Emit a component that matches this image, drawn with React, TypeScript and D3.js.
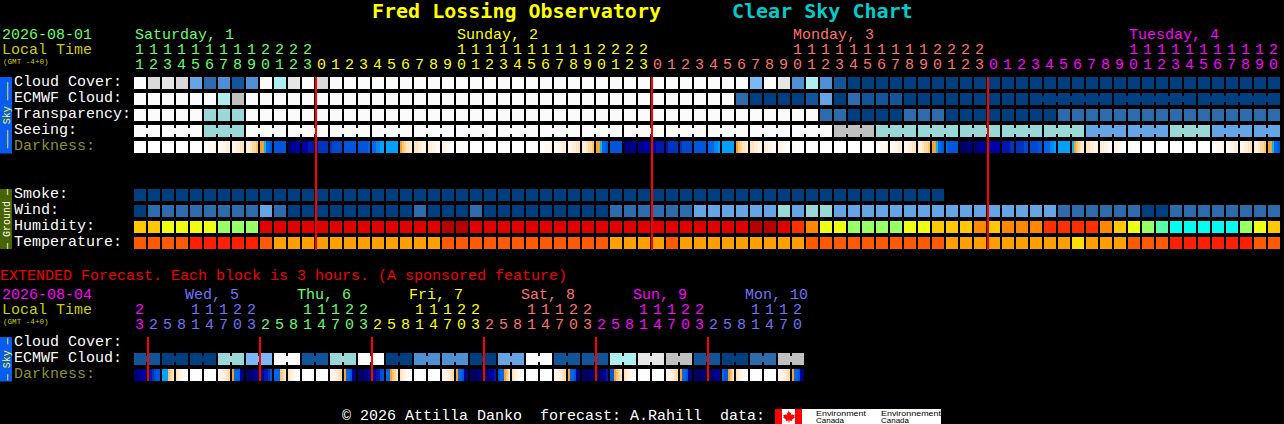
import * as d3 from 'd3';

import React, { useEffect, useRef } from 'react';

// level 0 = clear ... 11 = overcast, shared by all the sky rows
const skyPalette = ['#fbfbfb', '#e6e6e6', '#d9d9d9', '#c0c0c0', '#aeeeee', '#9ad8d8', '#7ab8f8', '#65a5e5', '#4f8fd4', '#2d6bad', '#13559a', '#003f7f'];
const humidityPalette = ['#00ffee', '#55ffaa', '#99ff66', '#eeff14', '#ffc800', '#ff8800', '#ff3000', '#e00000', '#b40000'];
const temperaturePalette = ['#ffdd00', '#ffa000', '#ff5a00', '#ff2000'];

const cloudCover = [0, 2, 1, 2, 7, 9, 8, 10, 8, 0, 4, 1, 0, 2, 0, 0, 0, 0, 0, 0, 0, 0, 0, 0, 0, 0, 0, 0, 0, 0, 0, 0, 0, 0, 0, 0, 0, 0, 0, 0, 0, 0, 0, 0, 6, 0, 1, 8, 4, 8, 10, 11, 11, 11, 11, 11, 11, 11, 11, 11, 11, 11, 11, 11, 11, 11, 11, 11, 11, 11, 11, 11, 11, 11, 11, 11, 11, 11, 11, 11, 11, 11];
const ecmwfCloud = [0, 0, 0, 0, 0, 0, 4, 3, 0, 0, 0, 0, 0, 0, 0, 0, 0, 0, 0, 0, 0, 0, 0, 0, 0, 0, 0, 0, 0, 0, 0, 0, 0, 0, 0, 0, 0, 0, 0, 0, 0, 0, 0, 9, 11, 11, 11, 11, 10, 7, 11, 9, 10, 10, 10, 11, 11, 11, 11, 11, 11, 11, 11, 11, 11, 11, 11, 11, 11, 11, 11, 11, 11, 11, 11, 11, 11, 11, 11, 11, 11, 11];
const transparency = [0, 0, 0, 0, 0, 5, 5, 5, 0, 0, 0, 0, 0, 0, 0, 0, 0, 0, 0, 0, 0, 0, 0, 0, 0, 0, 0, 0, 0, 0, 0, 0, 0, 0, 0, 0, 0, 0, 0, 0, 0, 0, 0, 0, 0, 0, 0, 0, 0, 9, 9, 11, 11, 11, 11, 9, 9, 9, 11, 11, 11, 11, 11, 11, 11, 11, 9, 9, 9, 9, 9, 9, 9, 9, 9, 9, 9, 9, 9, 9, 9, 9];
const seeing = [0, 0, 0, 0, 0, 5, 5, 5, 0, 0, 0, 0, 0, 0, 0, 0, 0, 0, 0, 0, 0, 0, 0, 0, 0, 0, 0, 0, 0, 0, 0, 0, 0, 0, 0, 0, 0, 0, 0, 0, 0, 0, 0, 0, 0, 0, 0, 0, 0, 0, 3, 3, 3, 5, 5, 5, 5, 5, 5, 5, 5, 5, 5, 5, 5, 5, 5, 5, 7, 7, 7, 7, 7, 7, 5, 5, 5, 7, 7, 7, 7, 7];
const smoke = [11, 11, 11, 11, 11, 11, 11, 11, 11, 11, 11, 11, 11, 11, 11, 11, 11, 11, 11, 11, 11, 11, 11, 11, 11, 11, 11, 11, 11, 11, 11, 11, 11, 11, 11, 11, 11, 11, 11, 11, 11, 11, 11, 11, 11, 11, 11, 11, 11, 11, 11, 11, 11, 11, 11, 11, 11, 11];
const wind = [11, 9, 9, 9, 9, 9, 9, 9, 9, 7, 9, 11, 11, 11, 11, 11, 11, 11, 11, 11, 9, 11, 11, 11, 9, 11, 11, 11, 11, 11, 11, 11, 11, 11, 9, 9, 9, 9, 9, 9, 7, 7, 7, 7, 7, 7, 5, 7, 5, 5, 7, 7, 7, 7, 7, 7, 7, 7, 7, 7, 7, 7, 7, 7, 7, 7, 9, 9, 9, 9, 9, 9, 11, 11, 9, 9, 9, 9, 9, 9, 9, 9];
const humidity = [4, 4, 3, 3, 3, 3, 2, 2, 2, 7, 7, 7, 7, 7, 7, 7, 7, 7, 7, 7, 7, 7, 8, 8, 7, 7, 7, 7, 7, 7, 7, 7, 7, 7, 7, 7, 7, 7, 7, 7, 7, 7, 7, 7, 8, 8, 7, 6, 5, 3, 3, 2, 2, 2, 2, 3, 3, 4, 4, 4, 5, 4, 5, 5, 5, 6, 6, 6, 6, 5, 4, 3, 2, 1, 0, 0, 0, 0, 0, 2, 3, 4];
const temperature = [2, 2, 2, 2, 3, 3, 3, 3, 3, 2, 1, 1, 1, 1, 1, 1, 1, 1, 1, 1, 1, 1, 2, 2, 2, 2, 2, 2, 2, 2, 2, 2, 2, 2, 1, 1, 1, 1, 2, 1, 1, 1, 1, 1, 1, 1, 1, 1, 2, 2, 2, 2, 2, 2, 2, 2, 2, 2, 1, 1, 1, 1, 1, 1, 1, 1, 1, 0, 1, 1, 1, 2, 2, 2, 3, 3, 3, 3, 3, 3, 2, 2];

// one level per 3 hour block, each block is two columns wide
const extEcmwf = [10, 11, 11, 5, 6, 0, 10, 5, 0, 11, 8, 8, 11, 7, 0, 10, 10, 4, 1, 3, 10, 11, 9, 3];

// darkness: six slices per cell, one letter per slice
const darkColors: Record<string, string> = {
  w: '#ffffff', v: '#fffaf2', u: '#fff4e6', t: '#ffeed8', s: '#ffe4c0', r: '#ffd69c', q: '#ffc46c', o: '#f8a030',
  c: '#00b8f0', h: '#00a0ff', i: '#0088f0', j: '#0068e8', k: '#0055dd', l: '#0048d0', m: '#0033c0', n: '#0018b0',
  a: '#0000a8', b: '#000090', d: '#000078', e: '#000060',
};
const darkness = [
  'wwwwww', 'wwwwww', 'wwwwww', 'wwwwww', 'wwwwww', 'wwvvvu', 'vvuutt', 'uuttss', 'ttsrrq', 'oocjjk', 'kkkkkk', 'edbbaa', 'aaannn', 'nmmmmm',
  'mlllll', 'kkkkkk', 'kkkkkj', 'jjiihh', 'hhhhhh', 'oqrsst', 'ssttuu', 'ttuuvv', 'uuvvww', 'vvwwww', 'wwwwww', 'wwwwww', 'wwwwww', 'wwwwww', 'wwwwww',
  'wwvvvu', 'vvuutt', 'uuttss', 'ttsrrq', 'oocjjk', 'kkkkkk', 'eddbbb', 'bbbaaa', 'aannnn', 'nmmmmm', 'mlllll', 'kkkkkk', 'jjjiih', 'hhhhhh',
  'oqrsst', 'ssttuu', 'ttuuvv', 'uuvvww', 'vvwwww', 'wwwwww', 'wwwwww', 'wwwwww', 'wwwwww', 'wwwwww',
  'wwvvvu', 'vvuutt', 'uuttss', 'ttsrrq', 'oocjjk', 'jkkkkk', 'eeeddd', 'ddbbbb', 'baaaaa', 'nnnnmm', 'mmmmll', 'llllkk', 'jjjiih', 'hhhhhh',
  'coqrst', 'ssttuu', 'ttuuvv', 'uuvvww', 'vvwwww', 'wwwwww', 'wwwwww', 'wwwwww', 'wwwwww', 'wwwwww',
  'wwvvvu', 'vvuutt', 'uuttss', 'ttsrrq', 'oocjjk',
];
const extDarkness = [
  'ddbbaa', 'bnmlkk', 'hhhqrs', 'stuvww', 'wwwwww', 'wwwwww', 'vuutsr', 'ojjjbd',
  'eeedbb', 'bannmk', 'jjjqrs', 'stuvww', 'wwwwww', 'wwwwww', 'vuutsr', 'ojjkbd',
  'eeedda', 'bannlk', 'jjoqrs', 'stuvww', 'wwwwww', 'wwwwww', 'vuutsr', 'ojjkbd',
  'eeeedd', 'ddbban', 'kjjoqs', 'stuvww', 'wwwwww', 'wwwwww', 'vuutsr', 'ojjkbd',
  'eeeedd', 'eeddbn', 'kkoqrs', 'stuvww', 'wwwwww', 'wwwwww', 'vuutsr', 'ojjkbd',
  'eeeedd', 'eeddba', 'jkkoqs', 'stuvww', 'wwwwww', 'wwwwww', 'vuutsr', 'ojjkbd',
];

const mainHours = [
  11, 12, 13, 14, 15, 16, 17, 18, 19, 20, 21, 22, 23,
  0, 1, 2, 3, 4, 5, 6, 7, 8, 9, 10, 11, 12, 13, 14, 15, 16, 17, 18, 19, 20, 21, 22, 23,
  0, 1, 2, 3, 4, 5, 6, 7, 8, 9, 10, 11, 12, 13, 14, 15, 16, 17, 18, 19, 20, 21, 22, 23,
  0, 1, 2, 3, 4, 5, 6, 7, 8, 9, 10, 11, 12, 13, 14, 15, 16, 17, 18, 19, 20,
];
const extHours = [
  23,
  2, 5, 8, 11, 14, 17, 20, 23, 2, 5, 8, 11, 14, 17, 20, 23, 2, 5, 8, 11, 14, 17, 20, 23,
  2, 5, 8, 11, 14, 17, 20, 23, 2, 5, 8, 11, 14, 17, 20, 23, 2, 5, 8, 11, 14, 17, 20,
];

const mainDays = ['Saturday, 1', 'Sunday, 2', 'Monday, 3', 'Tuesday, 4'];
const mainDayColors = ['#66ff66', '#ffff00', '#ff7070', '#ff00ff'];
const mainDayStarts = [0, 13, 37, 61];
const mainDayLabelCols = [0, 23, 47, 71];

const extDays = ['', 'Wed, 5', 'Thu, 6', 'Fri, 7', 'Sat, 8', 'Sun, 9', 'Mon, 10'];
const extDayColors = ['#ff00ff', '#7070ff', '#66ff66', '#ffff00', '#ff7070', '#ff00ff', '#7070ff'];
const extDayStarts = [0, 1, 9, 17, 25, 33, 41];

const seeingBreaks = [0, 2, 5, 8, 11, 14, 17, 20, 23, 26, 29, 32, 35, 38, 41, 44, 47, 50, 53, 56, 59, 62, 65, 68, 71, 74, 77, 80];
const ecmwfJoinedBreaks = [64, 70, 76];

const FONT = '"Liberation Mono", monospace';
const TITLE_FONT = '"DejaVu Sans Mono", monospace';
const cellW = 12;
const cellH = 12;
const pitch = 14;

export default function App() {
  const ref = useRef<SVGSVGElement>(null);

  useEffect(() => {
    const svg = d3.select(ref.current);
    svg.selectAll('*').remove();

    const x = d3.scaleLinear().domain([0, 82]).range([134, 134 + 82 * pitch]);
    const sky = d3.scaleOrdinal<number, string>().domain(d3.range(skyPalette.length)).range(skyPalette);
    const hum = d3.scaleOrdinal<number, string>().domain(d3.range(humidityPalette.length)).range(humidityPalette);
    const temp = d3.scaleOrdinal<number, string>().domain(d3.range(temperaturePalette.length)).range(temperaturePalette);

    const label = (text: string, px: number, py: number, fill: string, size = 15) =>
      svg
        .append('text')
        .attr('x', px)
        .attr('y', py)
        .attr('fill', fill)
        .attr('font-family', FONT)
        .attr('font-size', size)
        .style('white-space', 'pre')
        .text(text);

    // breaks = columns that start a new block; the rest get a bridge to the cell before
    const drawRow = (values: number[], y: number, color: (v: number) => string, breaks?: number[]) => {
      const g = svg.append('g');
      g.selectAll('rect.cell')
        .data(values)
        .join('rect')
        .attr('class', 'cell')
        .attr('x', (_, i) => x(i))
        .attr('y', y)
        .attr('width', cellW)
        .attr('height', cellH);
      g.selectAll<SVGRectElement, number>('rect.cell').attr('fill', (d) => color(d));
      if (breaks) {
        const joined = d3.range(1, values.length).filter((i) => !breaks.includes(i));
        g.selectAll('rect.bridge')
          .data(joined)
          .join('rect')
          .attr('class', 'bridge')
          .attr('x', (i) => x(i) - (pitch - cellW))
          .attr('y', y + 3)
          .attr('width', pitch - cellW)
          .attr('height', cellH - 6)
          .attr('fill', (i) => color(values[i]));
      }
    };

    const drawDarkness = (cells: string[], y: number) => {
      const slice = d3.scaleBand<number>().domain(d3.range(6)).range([0, cellW]);
      const g = svg.append('g').attr('shape-rendering', 'crispEdges');
      g.selectAll('g')
        .data(cells)
        .join('g')
        .attr('transform', (_, i) => `translate(${x(i)},${y})`)
        .selectAll('rect')
        .data((d) => d.split(''))
        .join('rect')
        .attr('x', (_, i) => slice(i) as number)
        .attr('width', slice.bandwidth())
        .attr('height', cellH)
        .attr('fill', (d) => darkColors[d]);
    };

    const drawHours = (hours: number[], starts: number[], colors: string[], yTop: number, yBottom: number) => {
      const colorAt = (i: number) => colors[d3.bisectRight(starts, i) - 1];
      hours.forEach((h, i) => {
        if (h >= 10) label(String(Math.floor(h / 10)), x(i) + 5.5, yTop, colorAt(i)).attr('text-anchor', 'middle');
        label(String(h % 10), x(i) + 5.5, yBottom, colorAt(i)).attr('text-anchor', 'middle');
      });
    };

    const sideBar = (y: number, h: number, fill: string, text: string, textFill: string) => {
      svg.append('rect').attr('x', 0).attr('y', y).attr('width', cellW).attr('height', h).attr('fill', fill);
      svg
        .append('text')
        .attr('transform', `translate(9.5,${y + h / 2}) rotate(-90)`)
        .attr('text-anchor', 'middle')
        .attr('fill', textFill)
        .attr('font-family', FONT)
        .attr('font-size', 10)
        .style('white-space', 'pre')
        .text(text);
    };

    const redLine = (col: number, y0: number, y1: number) =>
      svg
        .append('rect')
        .attr('x', x(col) - 1)
        .attr('y', y0)
        .attr('width', 2)
        .attr('height', y1 - y0)
        .attr('fill', '#ff0000');

    // title
    label('Fred Lossing Observatory', 372, 18, '#ffff00', 20).attr('font-family', TITLE_FONT).attr('font-weight', 'bold');
    label('Clear Sky Chart', 732, 18, '#00cccc', 20).attr('font-family', TITLE_FONT).attr('font-weight', 'bold');

    // main header
    label('2026-08-01', 2, 39, '#66ff66');
    label('Local Time', 2, 54, '#cccc00');
    label('(GMT -4+0)', 3, 64, '#cccc00', 7.6);
    mainDays.forEach((d, i) => label(d, x(mainDayLabelCols[i]) + 1, 39, mainDayColors[i]));
    drawHours(mainHours, mainDayStarts, mainDayColors, 54, 69);

    // sky rows
    sideBar(77, 76.5, '#0a5cf0', '——— Sky ———', '#ffff00');
    label('Cloud Cover:', 14, 86, '#ffffff');
    label('ECMWF Cloud:', 14, 102, '#ffffff');
    label('Transparency:', 14, 118, '#ffffff');
    label('Seeing:', 14, 134, '#ffffff');
    label('Darkness:', 14, 150, '#8f8f2f');
    drawRow(cloudCover, 77, sky);
    drawRow(ecmwfCloud, 93, sky, d3.range(64).concat(ecmwfJoinedBreaks));
    drawRow(transparency, 109, sky);
    drawRow(seeing, 125, sky, seeingBreaks);
    drawDarkness(darkness, 141);

    // ground rows
    sideBar(189, 60, '#486400', '— Ground —', '#ffffff');
    label('Smoke:', 14, 198, '#ffffff');
    label('Wind:', 14, 214, '#ffffff');
    label('Humidity:', 14, 230, '#ffffff');
    label('Temperature:', 14, 246, '#ffffff');
    drawRow(smoke, 189, sky);
    drawRow(wind, 205, sky);
    drawRow(humidity, 221, hum);
    drawRow(temperature, 237, temp);

    mainDayStarts.slice(1).forEach((c) => redLine(c, 77, 250));

    // extended forecast
    label('EXTENDED Forecast. Each block is 3 hours. (A sponsored feature)', 0, 280, '#ee0000');
    label('2026-08-04', 2, 299, '#ff00ff');
    label('Local Time', 2, 314, '#cccc00');
    label('(GMT -4+0)', 3, 324, '#cccc00', 7.6);
    extDays.forEach((d, i) => label(d, x(extDayStarts[i]) + 37, 299, extDayColors[i]));
    drawHours(extHours, extDayStarts, extDayColors, 314, 329);

    sideBar(337, 44.5, '#0a5cf0', '— Sky —', '#ffff00');
    label('Cloud Cover:', 14, 346, '#ffffff');
    label('ECMWF Cloud:', 14, 362, '#ffffff');
    label('Darkness:', 14, 378, '#8f8f2f');
    drawRow(
      extEcmwf.flatMap((v) => [v, v]),
      353,
      sky,
      extEcmwf.map((_, i) => i * 2),
    );
    drawDarkness(extDarkness, 369);

    extDayStarts.slice(1).forEach((c) => redLine(c, 337, 381));

    // footer
    label('© 2026 Attilla Danko  forecast: A.Rahill  data:', 342, 420, '#ffffff');
    svg.append('rect').attr('x', 775).attr('y', 409).attr('width', 166).attr('height', 15).attr('fill', '#ffffff');
    svg.append('rect').attr('x', 775).attr('y', 409).attr('width', 7).attr('height', 15).attr('fill', '#ff0000');
    svg.append('rect').attr('x', 795).attr('y', 409).attr('width', 7).attr('height', 15).attr('fill', '#ff0000');
    svg
      .append('path')
      .attr('d', 'M788.5 410.5l1.5 2.5 1.2-.6-.5 3 1.6-1.4.5 1 2-.3-.6 2 .8.5-3 2.5.4 1.2-3-.4v2h-.8v-2l-3 .4.4-1.2-3-2.5.8-.5-.6-2 2 .3.5-1 1.6 1.4-.5-3 1.2.6z')
      .attr('fill', '#ff0000');
    const logoText = (text: string, px: number, py: number, len: number) =>
      svg
        .append('text')
        .attr('x', px)
        .attr('y', py)
        .attr('fill', '#000')
        .attr('font-family', '"Liberation Sans", sans-serif')
        .attr('font-size', 7)
        .attr('textLength', len)
        .attr('lengthAdjust', 'spacingAndGlyphs')
        .text(text);
    logoText('Environment', 816, 416, 50);
    logoText('Canada', 816, 423, 28);
    logoText('Environnement', 881, 416, 60);
    logoText('Canada', 881, 423, 28);
  }, []);

  return (
    <>
      <style>{'html,body{margin:0;background:#000;overflow:hidden}'}</style>
      <svg ref={ref} width={1284} height={424} style={{ display: 'block', background: '#000' }} />
    </>
  );
}
